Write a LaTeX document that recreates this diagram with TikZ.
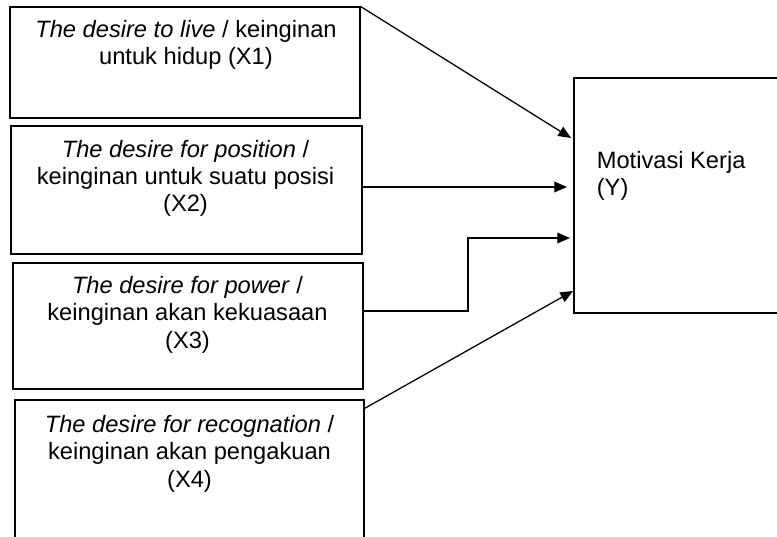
\documentclass[tikz,border=0pt]{standalone}
\usepackage{fontspec}
\setmainfont{Liberation Sans}
\usetikzlibrary{arrows.meta}
\usetikzlibrary{positioning}
\newcommand\pxu{0.03cm}
\tikzset{varbox/.style={ % outline of every variable box
           draw,
           line width=0.9pt,
           minimum width=350*\pxu,
           inner sep=0pt},
         boxtext/.style={align=center, anchor=base, % base = last line
           font=\fontsize{20.2}{23.2}\selectfont},
         arr/.style={ % arrows into Y
           draw,
           line width=1.1pt,
           -{Triangle[length=0.38cm,width=0.32cm]}}}

\begin{document}
\begin{tikzpicture}[x=\pxu,y=-\pxu]
\useasboundingbox (0,0) rectangle (777,537);
\clip (0,0) rectangle (777,537);

% independent variables
\node[varbox, minimum height=111*\pxu] (x1) at (185,62.5) {};
\node[varbox, minimum width=351*\pxu, minimum height=128*\pxu] (x2) at (186.5,190) {};
\node[varbox, minimum height=126*\pxu] (x3) at (188,326) {};
\node[varbox, minimum width=349*\pxu, minimum height=160*\pxu] (x4) at (189.5,480) {};
% dependent variable
\node[varbox, minimum width=226*\pxu, minimum height=235*\pxu] (y) at (687,195.5) {};

\node[boxtext] (t1) at (186,65) {\textit{The desire to live} / keinginan\\untuk hidup (X1)};
\node[boxtext] (t2) at (185.5,212) {\textit{The desire for position} /\\keinginan untuk suatu posisi\\(X2)};
\node[boxtext] (t3) at (187.5,348) {\textit{The desire for power} /\\keinginan akan kekuasaan\\(X3)};
\node[boxtext] (t4) at (189.5,487) {\textit{The desire for recognation} /\\keinginan akan pengakuan\\(X4)};
\node[boxtext, align=left, anchor=base west] (ty) at (592.7,196) {Motivasi Kerja\\(Y)};

\coordinate (in1) at (571,138);
\coordinate (in2) at (567,187);
\coordinate (bend3) at (468,238);
\coordinate (in3) at (570,238);
\coordinate (in4) at (573,291);

\draw[arr] (x1.north east) -- (in1);
\draw[arr] (x2.east |- in2) -- (in2);
\draw[arr] ([yshift=0.45cm]x3.east) -| (bend3) -- (in3);
\draw[arr] ([yshift=-0.27cm]x4.north east) -- (in4);
% \draw[arr] (x4.east) -- (y.west);
\end{tikzpicture}
\end{document}
